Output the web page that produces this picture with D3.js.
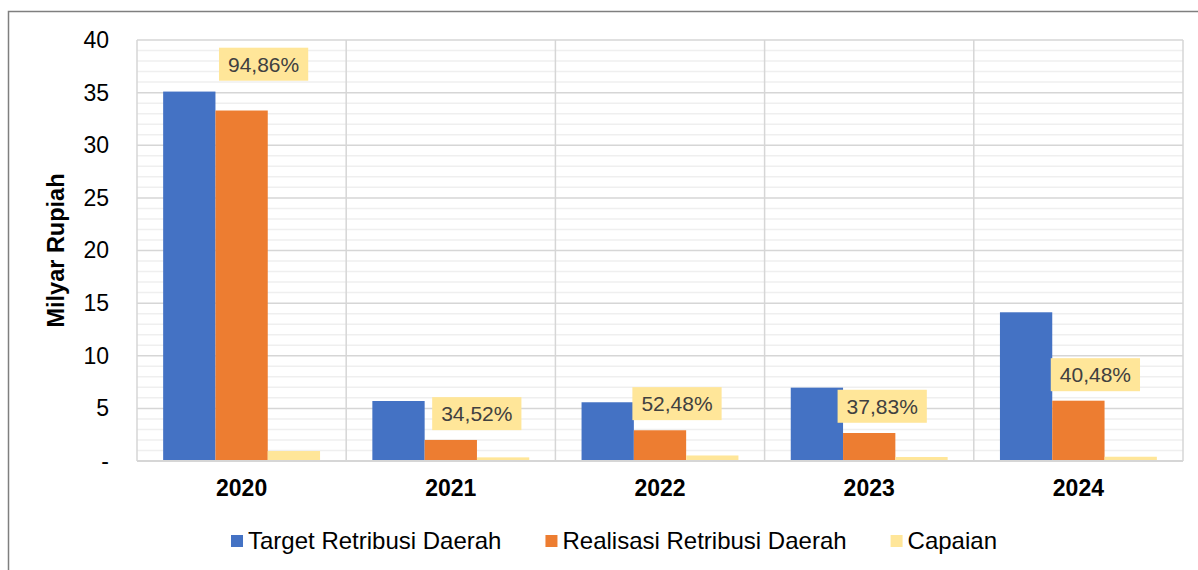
<!DOCTYPE html>
<html>
<head>
<meta charset="utf-8">
<script src="https://cdn.jsdelivr.net/npm/d3@7"></script>
<style>
    body { margin: 0; background: #fff; }
    svg { display: block; font-family: "Liberation Sans", Arial, sans-serif; }
</style>
</head>
<body>
<div id="chart"></div>
<script>
// data
const years = ["2020", "2021", "2022", "2023", "2024"];
const target = [35.1, 5.7, 5.58, 6.97, 14.13];
const realisasi = [33.3, 2.0, 2.92, 2.66, 5.73];
const capaian = [0.9486, 0.3452, 0.5248, 0.3783, 0.4048];
const capaianLabels = ["94,86%", "34,52%", "52,48%", "37,83%", "40,48%"];
const seriesNames = ["Target Retribusi Daerah", "Realisasi Retribusi Daerah", "Capaian"];
const yTicks = [0, 5, 10, 15, 20, 25, 30, 35, 40];

class barChart {

    margin = {top: 40, right: 15, bottom: 109, left: 137};
    width = 1198 - this.margin.left - this.margin.right;
    height = 570 - this.margin.top - this.margin.bottom;

    colors = ["#4472C4", "#ED7D31", "#FFE699"];

    // labels were dragged by hand in the original, nudge them the same way
    // dx in px from the year centre, y in axis units
    labelNudge = [
        {dx: 22, y: 37.7}, {dx: 26, y: 4.5}, {dx: 17, y: 5.45},
        {dx: 13, y: 5.2}, {dx: 17, y: 8.2}
    ];

    constructor(container) {
        this.container = container;
        this.rows = years.map((yr, i) => ({
            year: yr,
            values: [target[i], realisasi[i], capaian[i]],
            label: capaianLabels[i]
        }));
    }

    draw() {
        this.root = d3.select(this.container).append("svg")
            .attr("width", 1198)
            .attr("height", 570);

        // outer chart border, runs off the picture on the right and bottom
        this.root.append("rect")
            .attr("x", 8.5).attr("y", 11.5)
            .attr("width", 1400).attr("height", 700)
            .attr("fill", "none")
            .attr("stroke", "#7f7f7f")
            .attr("stroke-width", 1.5);

        this.svg = this.root.append("g")
            .attr("transform", "translate(" + this.margin.left + "," + this.margin.top + ")");

        this._setScales();
        this._setGrid();
        this._setBars();
        this._setAxes();
        this._setLabels();
        this._setLegend();
    }

    _setScales() {
        this.x = d3.scaleBand()
            .domain(years)
            .range([0, this.width])
            .padding(0);

        this.x_inner = d3.scaleBand()
            .domain([0, 1, 2])
            .range([0, this.x.bandwidth()])
            .paddingInner(0)
            .paddingOuter(0.5);

        this.y = d3.scaleLinear()
            .domain([0, 40])
            .range([this.height, 0]);
    }

    _setGrid() {
        let minor = d3.range(0, 41, 1).filter(v => v % 5 !== 0);

        this.svg.append("g")
            .selectAll("line")
            .data(minor)
            .join("line")
            .attr("x1", 0).attr("x2", this.width)
            .attr("y1", d => this.y(d)).attr("y2", d => this.y(d))
            .attr("stroke", "#efefef")
            .attr("stroke-width", 1.5);

        this.svg.append("g")
            .selectAll("line")
            .data(yTicks.slice(1))
            .join("line")
            .attr("x1", 0).attr("x2", this.width)
            .attr("y1", d => this.y(d)).attr("y2", d => this.y(d))
            .attr("stroke", "#d6d6d6")
            .attr("stroke-width", 1.5);

        // vertical separators between years
        let edges = years.map(d => this.x(d)).concat([this.width]);
        this.svg.append("g")
            .selectAll("line")
            .data(edges)
            .join("line")
            .attr("x1", d => d).attr("x2", d => d)
            .attr("y1", 0).attr("y2", this.height)
            .attr("stroke", "#d6d6d6")
            .attr("stroke-width", 1.5);
    }

    _setBars() {
        let groups = this.svg.append("g")
            .selectAll("g")
            .data(this.rows)
            .join("g")
            .attr("transform", d => "translate(" + this.x(d.year) + ",0)");

        groups.selectAll("rect")
            .data(d => d.values.map((v, k) => ({k: k, v: v})))
            .join("rect")
            .attr("x", d => this.x_inner(d.k))
            .attr("width", this.x_inner.bandwidth())
            .attr("y", d => this.y(d.v))
            .attr("height", d => this.height - this.y(d.v))
            .attr("fill", d => this.colors[d.k]);
    }

    _setAxes() {
        this.svg.append("line")
            .attr("x1", 0).attr("x2", this.width)
            .attr("y1", this.height).attr("y2", this.height)
            .attr("stroke", "#d6d6d6")
            .attr("stroke-width", 2);

        let y_axis = this.svg.append("g")
            .call(d3.axisLeft(this.y)
                .tickValues(yTicks)
                .tickSize(0)
                .tickPadding(28)
                .tickFormat(d => d === 0 ? "-" : d));
        y_axis.select(".domain").remove();
        y_axis.selectAll("text")
            .attr("font-size", 23)
            .attr("font-family", "Liberation Sans, Arial, sans-serif")
            .attr("fill", "#000");

        let x_axis = this.svg.append("g")
            .attr("transform", "translate(0," + this.height + ")")
            .call(d3.axisBottom(this.x).tickSize(0).tickPadding(19));
        x_axis.select(".domain").remove();
        x_axis.selectAll("text")
            .attr("font-size", 23)
            .attr("font-weight", "bold")
            .attr("font-family", "Liberation Sans, Arial, sans-serif")
            .attr("fill", "#000");

        this.svg.append("text")
            .attr("transform", "translate(" + (56 - this.margin.left) + "," + (this.height / 2) + ") rotate(-90)")
            .attr("text-anchor", "middle")
            .attr("dy", "0.35em")
            .attr("font-size", 23.5)
            .attr("font-weight", "bold")
            .text("Milyar Rupiah");
    }

    _setLabels() {
        let labels = this.svg.append("g")
            .selectAll("g")
            .data(this.rows)
            .join("g")
            .attr("transform", (d, i) => "translate(" +
                (this.x(d.year) + this.x.bandwidth() / 2 + this.labelNudge[i].dx) + "," +
                this.y(this.labelNudge[i].y) + ")");

        labels.each(function (d) {
            let g = d3.select(this);
            let box = g.append("rect").attr("fill", "#FFE699");
            let t = g.append("text")
                .attr("text-anchor", "middle")
                .attr("dy", "0.36em")
                .attr("font-size", 21)
                .attr("fill", "#404040")
                .text(d.label);
            let w = t.node().getComputedTextLength() + 18;
            box.attr("x", -w / 2).attr("y", -16.5)
                .attr("width", w).attr("height", 33);
        });
    }

    _setLegend() {
        let legend = this.root.append("g")
            .attr("transform", "translate(0,541)");

        let items = legend.selectAll("g")
            .data(seriesNames)
            .join("g");

        items.append("rect")
            .attr("y", -6)
            .attr("width", 12).attr("height", 12)
            .attr("fill", (d, i) => this.colors[i]);

        items.append("text")
            .attr("x", 17)
            .attr("dy", "0.35em")
            .attr("font-size", 24)
            .attr("fill", "#000")
            .text(d => d);

        let widths = [];
        items.each(function () {
            widths.push(this.getBBox().width);
        });
        let gap = 44;
        let total = d3.sum(widths) + gap * (widths.length - 1);
        let xpos = 614 - total / 2;
        items.attr("transform", (d, i) => {
            let tx = xpos;
            xpos += widths[i] + gap;
            return "translate(" + tx + ",0)";
        });
    }
}

let chart = new barChart("#chart");
chart.draw();
</script>
</body>
</html>
